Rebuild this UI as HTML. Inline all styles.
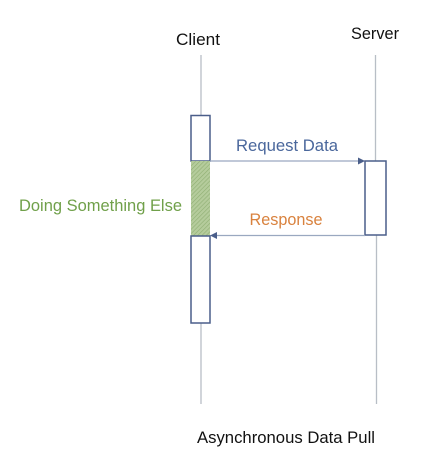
<!DOCTYPE html>
<html><head><meta charset="utf-8"><style>
html,body{margin:0;padding:0;background:#fff;width:431px;height:472px;overflow:hidden}
svg{display:block}
text{font-family:"Liberation Sans",sans-serif}
</style></head><body>
<svg width="431" height="472" viewBox="0 0 431 472">
<defs>
<pattern id="h" width="3" height="3" patternUnits="userSpaceOnUse" patternTransform="rotate(45)">
<rect width="3" height="3" fill="#b5cc9c"/>
<line x1="0" y1="0" x2="0" y2="3" stroke="#8fae72" stroke-width="1.2"/>
</pattern>
</defs>
<text x="198" y="45" font-size="16.5" text-anchor="middle" fill="#111" textLength="44" lengthAdjust="spacingAndGlyphs">Client</text>
<text x="375" y="39" font-size="16.5" text-anchor="middle" fill="#111" textLength="48" lengthAdjust="spacingAndGlyphs">Server</text>
<line x1="201" y1="55" x2="201" y2="404" stroke="#b8bec6" stroke-width="1.3"/>
<line x1="375.5" y1="55" x2="375.5" y2="161" stroke="#b8bec6" stroke-width="1.3"/>
<line x1="376.5" y1="235" x2="376.5" y2="404" stroke="#b8bec6" stroke-width="1.3"/>
<rect x="191" y="115.5" width="19" height="45.5" fill="#fff" stroke="#4a5e8a" stroke-width="1.5"/>
<rect x="191" y="161" width="19" height="75" fill="url(#h)"/>
<rect x="191" y="236" width="19" height="87" fill="#fff" stroke="#4a5e8a" stroke-width="1.5"/>
<rect x="365" y="161" width="21" height="74" fill="#fff" stroke="#4a5e8a" stroke-width="1.5"/>
<line x1="210" y1="161" x2="360" y2="161" stroke="#9aa8c0" stroke-width="1.3"/>
<polygon points="365,161 358,157.5 358,164.5" fill="#4a5e8a"/>
<line x1="216" y1="235.5" x2="365" y2="235.5" stroke="#9aa8c0" stroke-width="1.3"/>
<polygon points="210,235.5 217,232 217,239" fill="#4a5e8a"/>
<text x="287" y="151" font-size="16.5" text-anchor="middle" fill="#4a679c" textLength="102" lengthAdjust="spacingAndGlyphs">Request Data</text>
<text x="286" y="225" font-size="16.5" text-anchor="middle" fill="#d9823e" textLength="73" lengthAdjust="spacingAndGlyphs">Response</text>
<text x="19" y="211" font-size="16.5" fill="#70a04a" textLength="163" lengthAdjust="spacingAndGlyphs">Doing Something Else</text>
<text x="197" y="443" font-size="16.5" fill="#111" textLength="178" lengthAdjust="spacingAndGlyphs">Asynchronous Data Pull</text>
</svg>
</body></html>
